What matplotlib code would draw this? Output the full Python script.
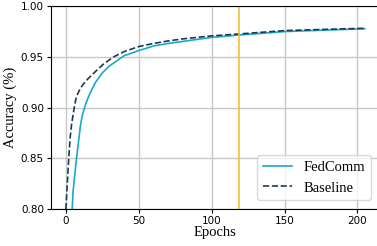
import matplotlib
matplotlib.use("Agg")
import matplotlib.pyplot as plt

fed_epochs = [3, 4, 5, 6, 7, 8, 9, 10, 11, 12, 14, 16, 18, 20, 25, 30, 37, 40, 50,
              60, 70, 80, 90, 100, 120, 150, 180, 205]
fed_acc = [0.70, 0.79, 0.818, 0.832, 0.846, 0.858, 0.870, 0.882, 0.890, 0.896, 0.905,
           0.912, 0.918, 0.924, 0.934, 0.941, 0.948, 0.951, 0.956,
           0.9605, 0.963, 0.965, 0.967, 0.969, 0.9715, 0.9747, 0.9763, 0.9775]

base_epochs = [0, 1, 2, 3, 4, 5, 6, 7, 8, 10, 12, 15, 20, 26, 33, 40, 50,
               60, 70, 80, 90, 100, 120, 150, 180, 205]
base_acc = [0.80, 0.825, 0.850, 0.871, 0.884, 0.893, 0.902, 0.909, 0.913, 0.919, 0.923,
            0.928, 0.935, 0.943, 0.950, 0.955, 0.960,
            0.963, 0.9655, 0.9675, 0.969, 0.9705, 0.9725, 0.9757, 0.977, 0.978]

marker_epoch = 119

serif = ["Liberation Serif", "DejaVu Serif"]

fig = plt.figure(figsize=(3.77, 2.46), dpi=100)
ax = fig.add_axes([0.135, 0.150, 0.872, 0.826])

ax.plot(fed_epochs, fed_acc, color="#1ba8cc", lw=1.2, label="FedComm")
ax.plot(base_epochs, base_acc, color="#1b3a52", lw=1.2, ls="--", label="Baseline")
ax.axvline(marker_epoch, color="#fbbc33", lw=1.2)

ax.set_xlim(-10.25, 215.25)
ax.set_ylim(0.80, 1.00)
ax.set_xticks([0, 50, 100, 150, 200])
ax.set_yticks([0.80, 0.85, 0.90, 0.95, 1.00])
ax.tick_params(labelsize=7.5, length=3, width=0.8, pad=2)
ax.grid(True, color="#c8c8c8", lw=1.0)
ax.set_axisbelow(True)

ax.set_xlabel("Epochs", family=serif, fontsize=10.5, labelpad=0)
ax.set_ylabel("Accuracy (%)", family=serif, fontsize=10.5, labelpad=3)

leg = ax.legend(loc="lower right", prop={"family": serif, "size": 10.5},
                framealpha=0.8, edgecolor="#d0d0d0", borderaxespad=0.6)

fig.savefig("out.png", dpi=100)
